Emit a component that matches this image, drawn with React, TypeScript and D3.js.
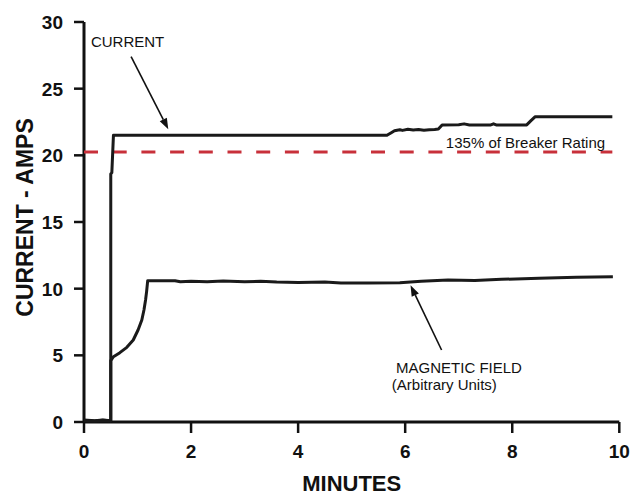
import React from "react";
import * as d3 from "d3";

// Time in minutes, current in amps
const currentT = [0, 0.2, 0.35, 0.5, 0.5, 0.52, 0.55, 5.66, 5.74, 5.8, 5.9, 5.95, 6.05, 6.15, 6.25, 6.35, 6.45, 6.55, 6.62, 6.69, 7.0, 7.1, 7.2, 7.6, 7.65, 7.7, 8.27, 8.35, 8.43, 9.87];
const currentV = [0.12, 0.08, 0.14, 0.1, 18.6, 18.7, 21.5, 21.5, 21.7, 21.85, 21.92, 21.87, 21.95, 21.9, 21.93, 21.88, 21.92, 21.94, 21.97, 22.28, 22.3, 22.36, 22.28, 22.28, 22.36, 22.28, 22.28, 22.6, 22.9, 22.9];

// Magnetic field (arbitrary units)
const fieldT = [0, 0.2, 0.35, 0.5, 0.5, 0.55, 0.67, 0.8, 0.92, 1.01, 1.08, 1.12, 1.15, 1.17, 1.19, 1.7, 1.8, 2.0, 2.3, 2.6, 3.0, 3.3, 3.6, 4.0, 4.5, 4.8, 5.3, 5.9, 6.3, 6.8, 7.3, 7.8, 8.5, 9.2, 9.88];
const fieldV = [0.15, 0.1, 0.15, 0.1, 4.6, 4.9, 5.2, 5.6, 6.15, 6.9, 7.65, 8.4, 9.15, 9.8, 10.6, 10.6, 10.52, 10.56, 10.52, 10.58, 10.52, 10.55, 10.5, 10.47, 10.5, 10.42, 10.42, 10.44, 10.55, 10.65, 10.62, 10.7, 10.78, 10.85, 10.9];

const breakerLevel = 20.25;
const breakerSpan = [0, 9.87];

const xTicks = [0, 2, 4, 6, 8, 10];
const yTicks = [0, 5, 10, 15, 20, 25, 30];

const xTitle = "MINUTES";
const yTitle = "CURRENT - AMPS";
const breakerLabel = "135% of Breaker Rating";
const currentLabel = "CURRENT";
const fieldLabel1 = "MAGNETIC FIELD";
const fieldLabel2 = "(Arbitrary Units)";

// annotation anchors in data units [t, v]
const currentLabelPos = [0.13, 28.1];
const currentArrow = [[0.88, 27.4], [1.575, 21.95]];
const breakerLabelPos = [6.76, 20.55];
const fieldLabelPos1 = [5.83, 3.675];
const fieldLabelPos2 = [5.75, 2.4];
const fieldArrow = [[6.68, 5.4], [6.1, 10.26]];

export default function App() {
  const W = 641, H = 497;
  const x = d3.scaleLinear().domain([0, 10]).range([84, 619.3]);
  const y = d3.scaleLinear().domain([0, 30]).range([422, 22]);
  const mk = (T: number[], V: number[]) =>
    d3.line<[number, number]>().x(d => x(d[0])).y(d => y(d[1]))(T.map((t, i) => [t, V[i]] as [number, number])) || "";

  const arrow = (a: number[][]) => {
    const x1 = x(a[0][0]), y1 = y(a[0][1]), x2 = x(a[1][0]), y2 = y(a[1][1]);
    const ang = Math.atan2(y2 - y1, x2 - x1);
    const L = 11, Wd = 4;
    const bx = x2 - L * Math.cos(ang), by = y2 - L * Math.sin(ang);
    const p1 = [bx + Wd * Math.sin(ang), by - Wd * Math.cos(ang)];
    const p2 = [bx - Wd * Math.sin(ang), by + Wd * Math.cos(ang)];
    return (
      <g>
        <line x1={x1} y1={y1} x2={bx} y2={by} stroke="#111" strokeWidth={1.6} />
        <path d={`M${x2},${y2}L${p1[0]},${p1[1]}L${p2[0]},${p2[1]}Z`} fill="#111" />
      </g>
    );
  };

  const font = "'Liberation Sans', Arial, Helvetica, sans-serif";
  return (
    <svg width={W} height={H} style={{ position: "absolute", left: 0, top: 0, background: "#fff" }} fontFamily={font}>
      <rect width={W} height={H} fill="#fff" />
      {/* axes */}
      <line x1={x(0)} y1={y(30)} x2={x(0)} y2={y(0)} stroke="#111" strokeWidth={3} />
      <line x1={x(0)} y1={y(0)} x2={x(10)} y2={y(0)} stroke="#111" strokeWidth={3} />
      {yTicks.map(t => (
        <g key={"y" + t}>
          <line x1={x(0) - 10} x2={x(0)} y1={y(t)} y2={y(t)} stroke="#111" strokeWidth={2.5} />
          <text x={x(0) - 21} y={y(t)} dy="0.36em" textAnchor="end" fontSize={19} fontWeight="bold" fill="#111">{t}</text>
        </g>
      ))}
      {xTicks.map(t => (
        <g key={"x" + t}>
          <line x1={x(t)} x2={x(t)} y1={y(0)} y2={y(0) + 11} stroke="#111" strokeWidth={2.5} />
          <text x={x(t)} y={458} textAnchor="middle" fontSize={19} fontWeight="bold" fill="#111">{t}</text>
        </g>
      ))}
      <text x={351.7} y={491} textAnchor="middle" fontSize={22} fontWeight="bold" fill="#111">{xTitle}</text>
      <text transform="translate(33,217.5) rotate(-90)" textAnchor="middle" fontSize={23} fontWeight="bold" fill="#111">{yTitle}</text>

      {/* breaker line */}
      <line x1={x(breakerSpan[0])} x2={x(breakerSpan[1])} y1={y(breakerLevel)} y2={y(breakerLevel)} stroke="#c8303a" strokeWidth={3} strokeDasharray="14 14.7" />
      <text x={x(breakerLabelPos[0])} y={y(breakerLabelPos[1])} fontSize={15} fill="#111">{breakerLabel}</text>

      {/* series */}
      <path d={mk(fieldT, fieldV)} fill="none" stroke="#1a1a1a" strokeWidth={3} strokeLinejoin="round" />
      <path d={mk(currentT, currentV)} fill="none" stroke="#1a1a1a" strokeWidth={3} strokeLinejoin="round" />

      {/* annotations */}
      <text x={x(currentLabelPos[0])} y={y(currentLabelPos[1])} fontSize={15} fill="#111">{currentLabel}</text>
      {arrow(currentArrow)}
      <text x={x(fieldLabelPos1[0])} y={y(fieldLabelPos1[1])} fontSize={15} fill="#111">{fieldLabel1}</text>
      <text x={x(fieldLabelPos2[0])} y={y(fieldLabelPos2[1])} fontSize={15} fill="#111">{fieldLabel2}</text>
      {arrow(fieldArrow)}
    </svg>
  );
}
